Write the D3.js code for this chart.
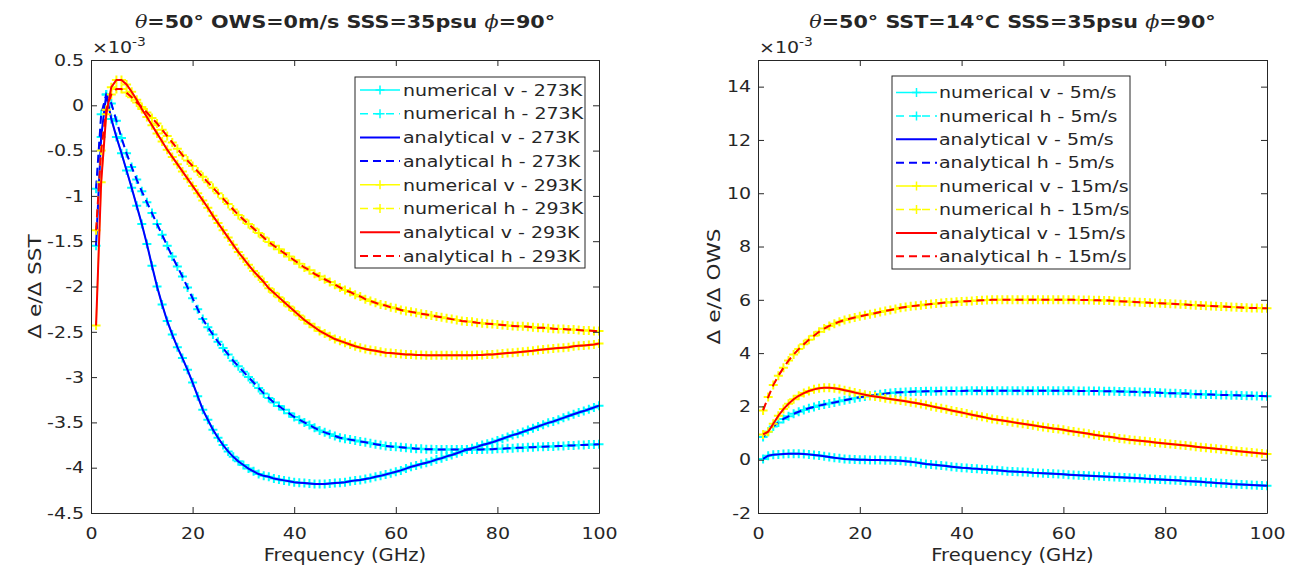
<!DOCTYPE html>
<html><head><meta charset="utf-8">
<script src="https://cdn.jsdelivr.net/npm/d3@7"></script>
<style>body{margin:0;background:#fff} text{font-family:"DejaVu Sans",sans-serif;fill:#262626}</style>
</head><body><svg id="chart" width="1307" height="569"></svg>
<script>
const freqGHz = [1,2,3,4,5,6,7,8,9,10,11,12,13,14,15,16,17,18,19,20,21,22,23,24,25,26,27,28,29,30,31,32,33,34,35,36,37,38,39,40,41,42,43,44,45,46,47,48,49,50,51,52,53,54,55,56,57,58,59,60,61,62,63,64,65,66,67,68,69,70,71,72,73,74,75,76,77,78,79,80,81,82,83,84,85,86,87,88,89,90,91,92,93,94,95,96,97,98,99,100];
const xTicks = [0,20,40,60,80,100];
const sstTicks = [-4.5,-4,-3.5,-3,-2.5,-2,-1.5,-1,-0.5,0,0.5];
const owsTicks = [-2,0,2,4,6,8,10,12,14];

// Left panel: d e / d SST (x1e-3)
const sst_v_273K = [
-1.55,-0.35,0.12,-0.15,-0.35,-0.53,-0.72,-0.91,-1.11,-1.31,
-1.53,-1.77,-2.00,-2.20,-2.38,-2.53,-2.67,-2.79,-2.92,-3.06,
-3.21,-3.36,-3.47,-3.58,-3.67,-3.75,-3.82,-3.88,-3.93,-3.97,
-4.01,-4.04,-4.07,-4.09,-4.10,-4.12,-4.13,-4.14,-4.15,-4.16,
-4.165,-4.17,-4.175,-4.18,-4.18,-4.18,-4.175,-4.17,-4.165,-4.16,
-4.15,-4.14,-4.135,-4.125,-4.115,-4.10,-4.09,-4.075,-4.06,-4.045,
-4.03,-4.01,-3.99,-3.975,-3.96,-3.945,-3.93,-3.91,-3.895,-3.875,
-3.86,-3.84,-3.82,-3.80,-3.785,-3.77,-3.75,-3.735,-3.72,-3.70,
-3.68,-3.66,-3.64,-3.625,-3.605,-3.585,-3.565,-3.545,-3.525,-3.505,
-3.49,-3.47,-3.45,-3.43,-3.41,-3.39,-3.375,-3.355,-3.335,-3.315];
const sst_h_273K = [
-0.92,-0.10,0.12,0.02,-0.17,-0.36,-0.53,-0.68,-0.82,-0.95,
-1.07,-1.19,-1.31,-1.43,-1.55,-1.67,-1.78,-1.89,-2.01,-2.13,
-2.25,-2.36,-2.45,-2.53,-2.61,-2.68,-2.75,-2.82,-2.88,-2.94,
-3.00,-3.06,-3.12,-3.18,-3.23,-3.28,-3.32,-3.36,-3.40,-3.44,
-3.47,-3.50,-3.53,-3.56,-3.59,-3.61,-3.63,-3.65,-3.67,-3.68,
-3.69,-3.70,-3.71,-3.72,-3.73,-3.74,-3.75,-3.76,-3.765,-3.77,
-3.775,-3.78,-3.785,-3.79,-3.79,-3.795,-3.795,-3.80,-3.80,-3.80,
-3.80,-3.80,-3.80,-3.80,-3.80,-3.80,-3.80,-3.795,-3.795,-3.79,
-3.79,-3.785,-3.785,-3.78,-3.78,-3.775,-3.775,-3.77,-3.77,-3.765,
-3.765,-3.76,-3.76,-3.755,-3.755,-3.75,-3.75,-3.745,-3.745,-3.74];
const sst_v_293K = [
-2.43,-0.85,-0.10,0.20,0.28,0.28,0.23,0.15,0.06,-0.04,
-0.13,-0.22,-0.31,-0.40,-0.49,-0.57,-0.65,-0.73,-0.81,-0.89,
-0.97,-1.05,-1.13,-1.22,-1.30,-1.38,-1.46,-1.54,-1.62,-1.69,
-1.76,-1.83,-1.89,-1.95,-2.02,-2.07,-2.12,-2.17,-2.22,-2.27,
-2.32,-2.37,-2.41,-2.45,-2.49,-2.52,-2.55,-2.58,-2.60,-2.62,
-2.64,-2.66,-2.675,-2.69,-2.70,-2.71,-2.72,-2.73,-2.735,-2.74,
-2.745,-2.75,-2.75,-2.755,-2.755,-2.76,-2.76,-2.76,-2.76,-2.76,
-2.76,-2.76,-2.76,-2.76,-2.76,-2.755,-2.755,-2.75,-2.75,-2.745,
-2.74,-2.735,-2.73,-2.725,-2.72,-2.715,-2.71,-2.70,-2.695,-2.69,
-2.685,-2.68,-2.675,-2.67,-2.66,-2.655,-2.65,-2.645,-2.64,-2.63];
const sst_h_293K = [
-1.38,-0.50,-0.05,0.12,0.18,0.18,0.14,0.09,0.03,-0.02,
-0.08,-0.14,-0.20,-0.27,-0.34,-0.41,-0.48,-0.55,-0.61,-0.67,
-0.73,-0.79,-0.85,-0.91,-0.97,-1.03,-1.09,-1.15,-1.21,-1.26,
-1.31,-1.36,-1.41,-1.46,-1.51,-1.55,-1.59,-1.63,-1.67,-1.71,
-1.75,-1.79,-1.82,-1.86,-1.89,-1.92,-1.95,-1.98,-2.01,-2.04,
-2.06,-2.09,-2.11,-2.14,-2.16,-2.18,-2.20,-2.21,-2.23,-2.24,
-2.26,-2.27,-2.28,-2.29,-2.30,-2.31,-2.32,-2.33,-2.34,-2.35,
-2.36,-2.37,-2.38,-2.385,-2.39,-2.40,-2.405,-2.41,-2.415,-2.42,
-2.425,-2.43,-2.435,-2.44,-2.44,-2.445,-2.45,-2.455,-2.455,-2.46,
-2.465,-2.47,-2.47,-2.475,-2.475,-2.48,-2.485,-2.485,-2.49,-2.49];

// Right panel: d e / d OWS (x1e-3)
const ows_v_5 = [
0.03,0.15,0.19,0.20,0.21,0.22,0.22,0.22,0.21,0.20,
0.18,0.16,0.13,0.10,0.07,0.05,0.03,0.02,0.01,0.00,
0.00,-0.01,-0.01,-0.01,-0.02,-0.02,-0.03,-0.04,-0.06,-0.08,
-0.10,-0.13,-0.16,-0.18,-0.20,-0.22,-0.24,-0.26,-0.28,-0.30,
-0.31,-0.33,-0.34,-0.36,-0.37,-0.39,-0.40,-0.41,-0.43,-0.44,
-0.45,-0.46,-0.47,-0.49,-0.50,-0.51,-0.52,-0.53,-0.54,-0.55,
-0.56,-0.57,-0.58,-0.59,-0.60,-0.61,-0.62,-0.63,-0.64,-0.65,
-0.66,-0.67,-0.68,-0.69,-0.70,-0.71,-0.72,-0.73,-0.74,-0.75,
-0.76,-0.77,-0.78,-0.80,-0.81,-0.82,-0.83,-0.85,-0.86,-0.87,
-0.88,-0.89,-0.91,-0.92,-0.93,-0.94,-0.95,-0.96,-0.97,-0.98];
const ows_h_5 = [
0.85,1.05,1.25,1.40,1.53,1.63,1.72,1.80,1.87,1.93,
1.98,2.03,2.07,2.11,2.15,2.19,2.23,2.27,2.31,2.34,
2.37,2.40,2.43,2.46,2.48,2.50,2.52,2.53,2.54,2.55,
2.56,2.56,2.57,2.57,2.57,2.58,2.58,2.58,2.58,2.58,
2.59,2.59,2.59,2.59,2.59,2.59,2.59,2.59,2.59,2.59,
2.59,2.59,2.59,2.59,2.59,2.59,2.59,2.59,2.59,2.59,
2.59,2.59,2.58,2.58,2.58,2.58,2.58,2.57,2.57,2.57,
2.56,2.56,2.55,2.55,2.54,2.53,2.53,2.52,2.51,2.50,
2.49,2.49,2.48,2.48,2.47,2.46,2.46,2.45,2.45,2.44,
2.43,2.43,2.42,2.42,2.41,2.40,2.40,2.39,2.39,2.38];
const ows_v_15 = [
0.95,1.05,1.35,1.65,1.90,2.10,2.27,2.40,2.50,2.58,
2.64,2.68,2.70,2.70,2.68,2.65,2.61,2.57,2.52,2.48,
2.44,2.40,2.37,2.34,2.31,2.28,2.25,2.22,2.19,2.16,
2.13,2.09,2.05,2.01,1.97,1.93,1.89,1.85,1.81,1.77,
1.73,1.69,1.65,1.61,1.57,1.53,1.50,1.47,1.44,1.41,
1.38,1.35,1.32,1.29,1.26,1.23,1.20,1.17,1.15,1.12,
1.09,1.06,1.03,1.00,0.97,0.94,0.91,0.88,0.86,0.83,
0.80,0.78,0.75,0.73,0.71,0.69,0.67,0.65,0.63,0.61,
0.59,0.57,0.55,0.53,0.51,0.49,0.47,0.45,0.43,0.41,
0.39,0.37,0.35,0.33,0.31,0.29,0.27,0.25,0.23,0.21];
const ows_h_15 = [
1.85,2.35,2.80,3.15,3.45,3.72,3.95,4.15,4.33,4.50,
4.65,4.80,4.92,5.02,5.10,5.18,5.24,5.29,5.34,5.38,
5.42,5.46,5.50,5.54,5.58,5.62,5.66,5.70,5.73,5.76,
5.78,5.80,5.82,5.84,5.86,5.88,5.90,5.91,5.93,5.94,
5.95,5.96,5.97,5.98,5.99,6.00,6.00,6.00,6.00,6.00,
6.00,6.00,6.00,6.00,6.00,6.00,6.00,6.00,6.00,6.00,
6.00,6.00,5.99,5.99,5.99,5.98,5.98,5.97,5.97,5.96,
5.95,5.94,5.93,5.92,5.91,5.90,5.89,5.88,5.87,5.86,
5.85,5.84,5.83,5.82,5.81,5.80,5.79,5.78,5.77,5.76,
5.75,5.74,5.73,5.72,5.71,5.70,5.69,5.69,5.68,5.68];

const sstLegend = ["numerical v - 273K","numerical h - 273K","analytical v - 273K","analytical h - 273K",
                   "numerical v - 293K","numerical h - 293K","analytical v - 293K","analytical h - 293K"];
const owsLegend = ["numerical v - 5m/s","numerical h - 5m/s","analytical v - 5m/s","analytical h - 5m/s",
                   "numerical v - 15m/s","numerical h - 15m/s","analytical v - 15m/s","analytical h - 15m/s"];

const SX = 1.15;
const INK = '#262626';
const svg = d3.select('#chart');
svg.append('rect').attr('width',1307).attr('height',569).attr('fill','#fff');

function styleSeries(vals1, vals2, labels) {
  return [
    {values: vals1[0], color:'#00FFFF', width:1.5, dashed:false, marker:true, label:labels[0]},
    {values: vals1[1], color:'#00FFFF', width:1.5, dashed:true,  marker:true, label:labels[1]},
    {values: vals1[0], color:'#0000FF', width:2,   dashed:false, marker:false, label:labels[2]},
    {values: vals1[1], color:'#0000FF', width:2,   dashed:true,  marker:false, label:labels[3]},
    {values: vals2[0], color:'#FFFF00', width:1.5, dashed:false, marker:true, label:labels[4]},
    {values: vals2[1], color:'#FFFF00', width:1.5, dashed:true,  marker:true, label:labels[5]},
    {values: vals2[0], color:'#FF0000', width:2,   dashed:false, marker:false, label:labels[6]},
    {values: vals2[1], color:'#FF0000', width:2,   dashed:true,  marker:false, label:labels[7]}
  ];
}
const DASH = '8,5';
const PLUS = 'M-4.5,0H4.5M0,-4.5V4.5';

function styleAxis(a) {
  a.attr('font-family','DejaVu Sans').attr('font-size',16.5);
  a.select('.domain').attr('stroke',INK).attr('stroke-width',1);
  a.selectAll('.tick line').attr('stroke',INK);
  a.selectAll('.tick text').attr('fill',INK).attr('transform',`scale(${SX},1)`);
}

function panel(p) {
  const x = d3.scaleLinear().domain([0,100]).range([p.left,p.right]);
  const y = d3.scaleLinear().domain(p.yDomain).range([p.bottom,p.top]);
  const g = svg.append('g');
  const line = d3.line().x((d,i)=>x(freqGHz[i])).y(d=>y(d));

  p.series.forEach(s => {
    g.append('path').attr('d',line(s.values)).attr('fill','none')
      .attr('stroke',s.color).attr('stroke-width',s.width)
      .attr('stroke-dasharray',s.dashed?DASH:null);
    if (s.marker) {
      g.append('g').selectAll('path').data(s.values).join('path')
        .attr('transform',(d,i)=>`translate(${x(freqGHz[i])},${y(d)})`)
        .attr('d',PLUS).attr('stroke',s.color).attr('stroke-width',2).attr('fill','none');
    }
  });

  styleAxis(g.append('g').attr('transform',`translate(0,${p.bottom})`)
    .call(d3.axisBottom(x).tickValues(xTicks).tickSizeInner(-6).tickSizeOuter(0).tickPadding(14).tickFormat(d=>String(d))));
  styleAxis(g.append('g').attr('transform',`translate(0,${p.top})`)
    .call(d3.axisTop(x).tickValues(xTicks).tickSizeInner(-6).tickSizeOuter(0).tickFormat('')));
  styleAxis(g.append('g').attr('transform',`translate(${p.left},0)`)
    .call(d3.axisLeft(y).tickValues(p.yTicks).tickSizeInner(-6).tickSizeOuter(0).tickPadding(6).tickFormat(d=>String(d))));
  styleAxis(g.append('g').attr('transform',`translate(${p.right},0)`)
    .call(d3.axisRight(y).tickValues(p.yTicks).tickSizeInner(-6).tickSizeOuter(0).tickFormat('')));

  const cx = (p.left+p.right)/2;
  const t = g.append('text').attr('transform',`translate(${cx},28) scale(${SX},1)`)
    .attr('text-anchor','middle').style('font-size','18px').style('font-weight','bold');
  p.title.forEach(part => t.append('tspan').text(part.t)
    .style('font-style',part.it?'italic':'normal').style('font-weight',part.it?'normal':'bold')
    .style('font-family',part.it?'"DejaVu Serif",serif':null));
  const e = g.append('text').attr('transform',`translate(${p.left+1},53) scale(${SX},1)`).style('font-size','16.5px');
  e.append('tspan').text('×10');
  e.append('tspan').text('-3').style('font-size','12px').attr('dy',-7);
  g.append('text').attr('transform',`translate(${cx},561) scale(${SX},1)`).attr('text-anchor','middle')
    .style('font-size','17px').text('Frequency (GHz)');
  g.append('text').attr('transform',`translate(${p.ylabelX},${(p.top+p.bottom)/2}) rotate(-90) scale(1.2,1)`)
    .attr('text-anchor','middle').style('font-size','18px').text(p.ylabel);

  const L = p.legend;
  const lg = g.append('g');
  lg.append('rect').attr('x',L.x).attr('y',L.y).attr('width',L.w).attr('height',L.h)
    .attr('fill','#fff').attr('stroke',INK).attr('stroke-width',1);
  p.series.forEach((s,i) => {
    const cy = L.row0 + i*L.step;
    lg.append('line').attr('x1',L.s0).attr('x2',L.s1).attr('y1',cy).attr('y2',cy)
      .attr('stroke',s.color).attr('stroke-width',s.width).attr('stroke-dasharray',s.dashed?DASH:null);
    if (s.marker) lg.append('path').attr('transform',`translate(${(L.s0+L.s1)/2},${cy})`)
      .attr('d',PLUS).attr('stroke',s.color).attr('stroke-width',1.5);
    lg.append('text').attr('transform',`translate(${L.tx},${cy}) scale(${SX},1)`).attr('dy','0.35em')
      .style('font-size','16.5px').text(s.label);
  });
}

panel({
  left:91, right:599, top:60, bottom:513, yDomain:[-4.5,0.5], yTicks:sstTicks,
  series: styleSeries([sst_v_273K, sst_h_273K],[sst_v_293K, sst_h_293K], sstLegend),
  title:[{t:'θ',it:true},{t:'=50° OWS=0m/s SSS=35psu '},{t:'ϕ',it:true},{t:'=90°'}],
  ylabel:'Δ e/Δ SST', ylabelX:41,
  legend:{x:355,y:77,w:230,h:191,row0:90,step:23.7,s0:360,s1:400,tx:403}
});
panel({
  left:758, right:1267, top:60, bottom:513, yDomain:[-2,15], yTicks:owsTicks,
  series: styleSeries([ows_v_5, ows_h_5],[ows_v_15, ows_h_15], owsLegend),
  title:[{t:'θ',it:true},{t:'=50° SST=14°C SSS=35psu '},{t:'ϕ',it:true},{t:'=90°'}],
  ylabel:'Δ e/Δ OWS', ylabelX:720,
  legend:{x:892,y:76,w:238,h:193,row0:92.5,step:23.4,s0:896,s1:937,tx:939}
});
</script></body></html>
